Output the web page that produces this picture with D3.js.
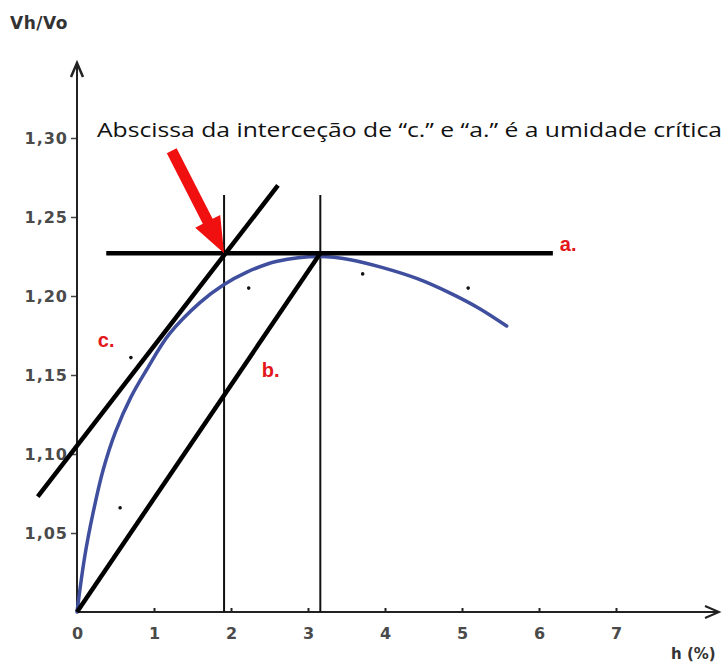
<!DOCTYPE html>
<html>
<head>
<meta charset="utf-8">
<script src="https://cdn.jsdelivr.net/npm/d3@7/dist/d3.min.js"></script>
<style>
  body { margin: 0; background: #fff; }
  svg { display: block; }
  .tick text { font-family: "DejaVu Sans", sans-serif; font-weight: bold; fill: #4a4a4a; }
</style>
</head>
<body>
<svg id="chart"></svg>
<script>
// values
var xTicks = [0, 1, 2, 3, 4, 5, 6, 7];
var yTicks = [1.05, 1.10, 1.15, 1.20, 1.25, 1.30];

// fitted curve Vh/Vo vs h
var curveH = [0, 0.10, 0.21, 0.34, 0.50, 0.70, 0.90, 1.20, 1.60, 1.90, 2.20, 2.60, 3.16, 3.55, 3.97, 4.42, 4.84, 5.23, 5.58];
var curveV = [1.000, 1.035, 1.063, 1.090, 1.114, 1.136, 1.153, 1.176, 1.196, 1.207, 1.215, 1.222, 1.225, 1.223, 1.218, 1.211, 1.202, 1.192, 1.181];

// measured points
var dotsH = [0.56, 0.70, 2.23, 3.71, 5.08];
var dotsV = [1.066, 1.161, 1.205, 1.214, 1.205];

// straight lines a., b., c.
var lineA = [[0.38, 1.227], [6.18, 1.227]];
var lineB = [[0, 1.000], [3.16, 1.227]];
var lineC = [[-0.51, 1.073], [2.61, 1.270]];
var verticals = [1.91, 3.16];
var verticalTop = 1.264;

var labels = [
  {text: "a.", h: 6.27, v: 1.2285},
  {text: "b.", h: 2.40, v: 1.1485},
  {text: "c.", h: 0.27, v: 1.1675}
];
var arrowTail = [1.23, 1.292];
var arrowTip = [1.91, 1.227];
var note = "Abscissa da interceção de “c.” e “a.” é a umidade crítica";

var width = 726, height = 665;

var svg = d3.select("#chart")
    .attr("width", width)
    .attr("height", height);

svg.append("rect").attr("width", width).attr("height", height).attr("fill", "#fff");

var x = d3.scaleLinear().domain([0, 7]).range([77, 616]);
var y = d3.scaleLinear().domain([1.0, 1.30]).range([612, 138]);

var line = d3.line()
    .x(function(d) { return x(d[0]); })
    .y(function(d) { return y(d[1]); });

// axes
var gx = svg.append("g")
    .attr("transform", "translate(0," + y(1.0) + ")")
    .call(d3.axisBottom(x)
        .tickValues(xTicks)
        .tickSize(-4)
        .tickPadding(16)
        .tickFormat(d3.format("d")));
gx.select(".domain").remove();
gx.selectAll(".tick line").attr("stroke", "#222").attr("stroke-width", 2);
gx.selectAll(".tick text").attr("font-size", 16);

var gy = svg.append("g")
    .attr("transform", "translate(" + x(0) + ",0)")
    .call(d3.axisLeft(y)
        .tickValues(yTicks)
        .tickSize(6)
        .tickPadding(3)
        .tickFormat(function(d) { return d3.format(".2f")(d).replace(".", ","); }));
gy.select(".domain").remove();
gy.selectAll(".tick line").attr("stroke", "#444").attr("stroke-width", 1.5);
gy.selectAll(".tick text").attr("font-size", 16).attr("letter-spacing", 1);

// axis lines with arrows
svg.append("line")
    .attr("x1", x(0)).attr("y1", y(1.0))
    .attr("x2", x(0)).attr("y2", 64)
    .attr("stroke", "#222").attr("stroke-width", 2);
svg.append("path")
    .attr("d", "M" + (x(0) - 6) + ",77 L" + x(0) + ",63 L" + (x(0) + 6) + ",77")
    .attr("fill", "none").attr("stroke", "#222").attr("stroke-width", 2.5);

svg.append("line")
    .attr("x1", x(0)).attr("y1", y(1.0))
    .attr("x2", 718).attr("y2", y(1.0))
    .attr("stroke", "#222").attr("stroke-width", 2);
svg.append("path")
    .attr("d", "M705," + (y(1.0) - 6) + " L719," + y(1.0) + " L705," + (y(1.0) + 6))
    .attr("fill", "none").attr("stroke", "#222").attr("stroke-width", 2);

svg.append("text")
    .attr("x", 10).attr("y", 29)
    .attr("font-family", "DejaVu Sans, sans-serif")
    .attr("font-weight", "bold")
    .attr("font-size", 17)
    .attr("letter-spacing", 0.5)
    .attr("fill", "#333")
    .text("Vh/Vo");

svg.append("text")
    .attr("x", 671).attr("y", 659)
    .attr("font-family", "DejaVu Sans, sans-serif")
    .attr("font-weight", "bold")
    .attr("font-size", 15)
    .attr("fill", "#333")
    .text("h (%)");

// vertical guide lines
svg.selectAll(".vline")
  .data(verticals)
  .enter().append("line")
    .attr("class", "vline")
    .attr("x1", function(d) { return x(d); })
    .attr("x2", function(d) { return x(d); })
    .attr("y1", y(1.0))
    .attr("y2", y(verticalTop))
    .attr("stroke", "#111")
    .attr("stroke-width", 2);

// fitted curve
svg.append("path")
    .datum(d3.zip(curveH, curveV))
    .attr("d", line.curve(d3.curveCatmullRom.alpha(0.5)))
    .attr("fill", "none")
    .attr("stroke", "#3f4f9e")
    .attr("stroke-width", 3.5)
    .attr("stroke-linecap", "round");
line.curve(d3.curveLinear);

// straight lines
[lineA, lineB, lineC].forEach(function(seg) {
    svg.append("path")
        .datum(seg)
        .attr("d", line)
        .attr("fill", "none")
        .attr("stroke", "#000")
        .attr("stroke-width", 4.5);
});

// points
svg.selectAll(".dot")
  .data(d3.zip(dotsH, dotsV))
  .enter().append("circle")
    .attr("class", "dot")
    .attr("cx", function(d) { return x(d[0]); })
    .attr("cy", function(d) { return y(d[1]); })
    .attr("r", 1.8)
    .attr("fill", "#111");

// red labels
svg.selectAll(".lbl")
  .data(labels)
  .enter().append("text")
    .attr("class", "lbl")
    .attr("x", function(d) { return x(d.h); })
    .attr("y", function(d) { return y(d.v); })
    .attr("font-family", "Liberation Sans, Arial, sans-serif")
    .attr("font-weight", "bold")
    .attr("font-size", 20)
    .attr("fill", "#e3161b")
    .text(function(d) { return d.text; });

// red arrow
var tx = x(arrowTail[0]), ty = y(arrowTail[1]);
var hx = x(arrowTip[0]), hy = y(arrowTip[1]);
var ang = Math.atan2(hy - ty, hx - tx);
var len = Math.hypot(hx - tx, hy - ty);
var headLen = 36, headW = 14, shaftW = 5.5;
var pts = [
  [0, -shaftW], [len - headLen, -shaftW], [len - headLen, -headW],
  [len, 0], [len - headLen, headW], [len - headLen, shaftW], [0, shaftW]
].map(function(p) {
  return [tx + p[0] * Math.cos(ang) - p[1] * Math.sin(ang),
          ty + p[0] * Math.sin(ang) + p[1] * Math.cos(ang)];
});
svg.append("path")
    .attr("d", "M" + pts.join("L") + "Z")
    .attr("fill", "#f01010");

// annotation
svg.append("text")
    .attr("x", 97).attr("y", 137)
    .attr("font-family", "Open Sans, sans-serif")
    .attr("font-size", 20)
    .attr("fill", "#111")
    .attr("textLength", 625)
    .attr("lengthAdjust", "spacingAndGlyphs")
    .text(note);
</script>
</body>
</html>
